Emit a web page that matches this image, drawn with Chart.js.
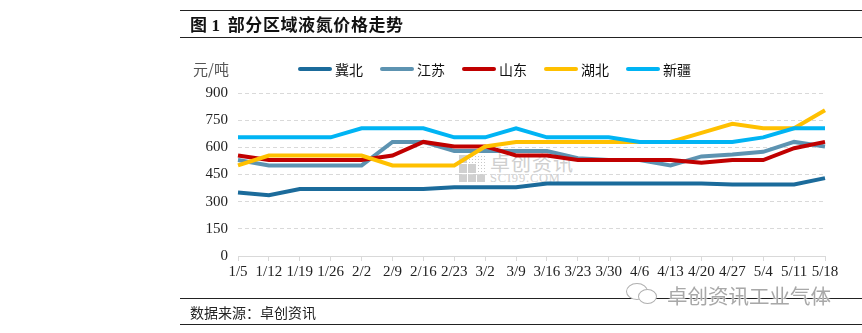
<!DOCTYPE html>
<html>
<head>
<meta charset="utf-8">
<script src="https://cdn.jsdelivr.net/npm/chart.js@4/dist/chart.umd.min.js"></script>
<style>
  body { margin: 0; background: #fff; }
  #wrap { position: relative; width: 862px; height: 333px; overflow: hidden; font-family: "Noto Sans CJK SC", sans-serif; }
  #wrap canvas { position: absolute; left: 0; top: 0; z-index: 2; }
  .rule { position: absolute; left: 180px; right: 0; height: 0; border-top: 1.5px solid #222; z-index: 3; }
  .txt { position: absolute; white-space: nowrap; z-index: 3; }
  #title { left: 190px; top: 11px; font-size: 17px; font-weight: bold; color: #111; letter-spacing: 0.6px; }
  #title .num { font-family: "Liberation Serif", serif; font-size: 17px; margin: 0 7px 0 4px; }
  #unit { left: 193px; top: 58px; font-size: 15px; color: #555; }
  #legend { position: absolute; left: 298px; top: 59px; height: 20px; z-index: 3; display: flex; align-items: center; }
  #legend .item { display: flex; align-items: center; margin-right: 17px; font-size: 14px; color: #111; }
  #legend .swatch { width: 34px; height: 4px; border-radius: 2px; margin-right: 3px; }
  #source { left: 190px; top: 302px; font-size: 14px; color: #222; }
  #brand { left: 667px; top: 280px; font-size: 20.5px; color: #a8a8a8; text-shadow: 0 0 2px #fff, 0 0 2px #fff; }
  #wx { position: absolute; left: 626px; top: 283px; width: 36px; height: 20px; z-index: 3; }
  #wx div { position: absolute; border: 1.3px solid #b0b0b0; border-radius: 50%; background: #fff; }
  #mark { position: absolute; left: 459px; top: 154px; z-index: 1; color: #cfcfcf; }
  #mark .logo { position: absolute; left: 0; top: 1px; width: 27px; height: 27px; display: grid; grid-template-columns: repeat(3, 8px); gap: 1px; }
  #mark .logo span { background: #d0d0d0; }
  #mark .logo span.dot { background: radial-gradient(#c8c8c8 35%, transparent 40%) 0 0 / 3px 3px; }
  #mark .cn { position: absolute; left: 31px; top: -6px; font-size: 20px; letter-spacing: 1px; white-space: nowrap; }
  #mark .en { position: absolute; left: 31px; top: 17px; font-family: "Liberation Serif", serif; font-size: 12.5px; letter-spacing: 0.8px; white-space: nowrap; }
</style>
</head>
<body>
<div id="wrap">
  <div class="rule" style="top:10px"></div>
  <div class="rule" style="top:37px"></div>
  <div class="rule" style="top:298px"></div>
  <div class="rule" style="top:324px"></div>
  <div class="txt" id="title">图<span class="num">1</span>部分区域液氮价格走势</div>
  <div class="txt" id="unit">元/吨</div>
  <div id="legend"></div>
  <div id="mark">
    <div class="logo"><span></span><span class="dot"></span><span class="dot"></span><span></span><span></span><span class="dot"></span><span></span><span></span><span></span></div>
    <div class="cn">卓创资讯</div>
    <div class="en">SCI99.COM</div>
  </div>
  <div id="wx"><div style="left:0;top:0;width:20px;height:15px"></div><div style="left:12px;top:6px;width:17px;height:13px"></div></div>
  <div class="txt" id="brand">卓创资讯工业气体</div>
  <div class="txt" id="source">数据来源：卓创资讯</div>
  <canvas id="chart" width="862" height="333"></canvas>
</div>
<script>
// weekly dates
const labels = ['1/5', '1/12', '1/19', '1/26', '2/2', '2/9', '2/16', '2/23', '3/2', '3/9',
                '3/16', '3/23', '3/30', '4/6', '4/13', '4/20', '4/27', '5/4', '5/11', '5/18'];

// price by region, yuan/ton
const jibei   = [350, 335, 370, 370, 370, 370, 370, 380, 380, 380, 400, 400, 400, 400, 400, 400, 395, 395, 395, 430];
const jiangsu = [530, 500, 500, 500, 500, 630, 630, 580, 580, 580, 580, 540, 530, 530, 500, 550, 560, 575, 630, 605];
const shandong = [555, 530, 530, 530, 530, 555, 630, 605, 605, 555, 555, 530, 530, 530, 530, 515, 530, 530, 595, 630];
const hubei   = [500, 555, 555, 555, 555, 500, 500, 500, 605, 630, 630, 630, 630, 630, 630, 680, 730, 705, 705, 805];
const xinjiang = [655, 655, 655, 655, 705, 705, 705, 655, 655, 705, 655, 655, 655, 630, 630, 630, 630, 655, 705, 705];

const seriesNames = ['冀北', '江苏', '山东', '湖北', '新疆'];
const seriesData = [jibei, jiangsu, shandong, hubei, xinjiang];
const seriesColors = ['#1b6b9b', '#5d93b1', '#c00000', '#ffc000', '#00b4f4'];

const yTicks = [0, 150, 300, 450, 600, 750, 900];

// legend row
const legendEl = document.getElementById('legend');
seriesNames.forEach((name, i) => {
    const item = document.createElement('div');
    item.className = 'item';
    item.innerHTML = '<span class="swatch" style="background:' + seriesColors[i] + '"></span>' + name;
    legendEl.appendChild(item);
});

const datasets = seriesNames.map((name, i) => ({
    label: name,
    data: seriesData[i],
    borderColor: seriesColors[i],
    backgroundColor: seriesColors[i],
    borderWidth: 4,
    pointRadius: 0,
    tension: 0,
    fill: false,
    order: seriesNames.length - i // later series on top
}));

const tickFont = { family: "'Liberation Serif'", size: 15 };

new Chart(document.getElementById('chart'), {
    type: 'line',
    data: { labels: labels, datasets: datasets },
    options: {
        responsive: false,
        animation: false,
        layout: { padding: { left: 180, right: 37, top: 93, bottom: 0 } },
        plugins: { legend: { display: false }, tooltip: { enabled: false } },
        scales: {
            x: {
                offset: false,
                afterFit: scale => { scale.height = 77; },
                border: { color: '#d9d9d9', width: 1 },
                grid: { drawOnChartArea: false, drawTicks: true, tickLength: 5, color: '#d9d9d9' },
                ticks: { autoSkip: false, maxRotation: 0, minRotation: 0, padding: 2, color: '#222', font: tickFont }
            },
            y: {
                min: 0,
                max: 900,
                afterFit: scale => { scale.width = 58; },
                afterBuildTicks: scale => { scale.ticks = yTicks.map(v => ({ value: v })); },
                border: { display: false, dash: [4, 3] },
                grid: {
                    drawTicks: false,
                    color: ctx => ctx.tick && ctx.tick.value === 0 ? 'rgba(0,0,0,0)' : '#d9d9d9'
                },
                ticks: { padding: 10, color: '#222', font: tickFont }
            }
        }
    }
});
</script>
</body>
</html>
